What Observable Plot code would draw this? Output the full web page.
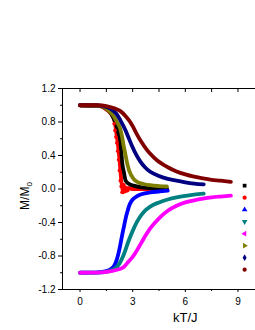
<!DOCTYPE html>
<html>
<head>
<meta charset="utf-8">
<script src="https://cdn.jsdelivr.net/npm/d3@7"></script>
<script src="https://cdn.jsdelivr.net/npm/@observablehq/plot@0.6"></script>
<style>
  html, body { margin: 0; padding: 0; background: #fff; }
  #chart svg { display: block; font-family: "Liberation Sans", Arial, sans-serif; }
</style>
</head>
<body>
<div id="chart"></div>
<script>
// ---- data ----
const blackT  = [0, 1.0, 1.5, 1.9, 2.1, 2.2, 2.29, 2.35, 2.4, 2.5, 2.6, 2.8, 3.05, 3.5, 4.0, 4.95];
const blackM  = [1, 0.995, 0.96, 0.85, 0.74, 0.66, 0.58, 0.45, 0.32, 0.2, 0.1, 0.06, 0.04, 0.02, 0.01, 0.005];

const redT    = [0, 1.0, 1.5, 1.9, 2.0, 2.05, 2.1, 2.15, 2.2, 2.25, 2.3, 2.35, 2.4, 2.45, 2.5, 2.55, 2.6, 2.7, 2.8, 3.0, 3.5, 4.0, 4.95];
const redM    = [1, 0.995, 0.95, 0.85, 0.78, 0.7, 0.62, 0.55, 0.45, 0.35, 0.22, 0.1, 0.03, -0.04, 0.05, -0.03, 0.02, -0.02, 0.01, 0.0, 0.0, -0.005, 0.0];

const blueT   = [0, 1.0, 1.5, 1.9, 2.1, 2.2, 2.3, 2.4, 2.5, 2.6, 2.7, 2.8, 2.9, 3.0, 3.25, 3.5, 4.0, 4.5, 5.0];
const blueM   = [-1, -0.995, -0.98, -0.93, -0.84, -0.76, -0.66, -0.55, -0.45, -0.35, -0.27, -0.2, -0.155, -0.125, -0.085, -0.062, -0.04, -0.03, -0.02];

const tealT   = [0, 1.0, 1.5, 2.0, 2.25, 2.5, 2.75, 3.0, 3.25, 3.5, 3.75, 4.0, 4.5, 5.0, 5.5, 6.0, 6.5, 7.05];
const tealM   = [-1, -0.998, -0.99, -0.95, -0.89, -0.78, -0.63, -0.5, -0.39, -0.31, -0.25, -0.21, -0.16, -0.125, -0.1, -0.082, -0.068, -0.055];

const magentaT = [0, 1.0, 1.5, 2.0, 2.5, 2.75, 3.0, 3.25, 3.5, 3.75, 4.0, 4.5, 5.0, 5.5, 6.0, 6.5, 7.0, 7.5, 8.0, 8.6];
const magentaM = [-1, -0.998, -0.99, -0.97, -0.93, -0.87, -0.81, -0.73, -0.64, -0.55, -0.47, -0.35, -0.26, -0.2, -0.16, -0.135, -0.115, -0.1, -0.09, -0.08];

const oliveT  = [0, 1.0, 1.5, 1.9, 2.1, 2.29, 2.4, 2.48, 2.58, 2.67, 2.8, 3.05, 3.3, 3.62, 4.0, 4.5, 4.95];
const oliveM  = [1, 0.995, 0.96, 0.875, 0.8, 0.72, 0.62, 0.52, 0.42, 0.32, 0.22, 0.12, 0.08, 0.06, 0.045, 0.035, 0.03];

const navyT   = [0, 1.0, 1.5, 1.8, 2.1, 2.3, 2.57, 2.75, 2.95, 3.2, 3.43, 3.7, 4.0, 4.5, 5.0, 5.5, 6.0, 6.5, 7.05];
const navyM   = [1, 0.998, 0.98, 0.95, 0.89, 0.82, 0.71, 0.62, 0.52, 0.41, 0.33, 0.26, 0.205, 0.155, 0.12, 0.1, 0.08, 0.065, 0.055];

const maroonT = [0, 1.0, 1.5, 2.0, 2.3, 2.6, 2.86, 3.0, 3.25, 3.5, 3.8, 4.0, 4.4, 5.0, 5.5, 6.0, 6.5, 7.0, 7.5, 8.0, 8.6];
const maroonM = [1, 1.0, 0.99, 0.96, 0.93, 0.87, 0.8, 0.75, 0.65, 0.56, 0.47, 0.42, 0.34, 0.26, 0.21, 0.175, 0.148, 0.127, 0.11, 0.1, 0.085];

const xTicks = [0, 3, 6, 9];
const xTickLabels = ["0", "3", "6", "9"];
const xMinor = [1.5, 4.5, 7.5];
const xTopTicks = [0, 1.5, 3, 4.5, 6, 7.5, 9];
const yTicks = [-1.2, -0.8, -0.4, 0, 0.4, 0.8, 1.2];
const yTickLabels = ["-1.2", "-0.8", "-0.4", "0.0", "0.4", "0.8", "1.2"];
const yMinor = [-1.0, -0.6, -0.2, 0.2, 0.6, 1.0];

// legend order (as in the reference, top to bottom)
const series = [
  {name: "black",   color: "#000000", symbol: "square",   rotate: 0,   T: blackT,   M: blackM},
  {name: "red",     color: "#ff0000", symbol: "circle",   rotate: 0,   T: redT,     M: redM},
  {name: "blue",    color: "#0000ff", symbol: "triangle", rotate: 0,   T: blueT,    M: blueM},
  {name: "teal",    color: "#008080", symbol: "triangle", rotate: 180, T: tealT,    M: tealM},
  {name: "magenta", color: "#ff00ff", symbol: "triangle", rotate: -90, T: magentaT, M: magentaM},
  {name: "olive",   color: "#808000", symbol: "triangle", rotate: 90,  T: oliveT,   M: oliveM},
  {name: "navy",    color: "#000080", symbol: "diamond",  rotate: 0,   T: navyT,    M: navyM},
  {name: "maroon",  color: "#800000", symbol: "circle",   rotate: 0,   T: maroonT,  M: maroonM}
];
// drawing order: later on top
const drawOrder = ["red", "black", "blue", "teal", "magenta", "olive", "navy", "maroon"];

const legendX = 9.38;
const legendTop = 0.04;
const legendStep = 0.1433;
const legendRows = series.map((s, i) => ({...s, lx: legendX, ly: legendTop - i * legendStep}));

const lineMarks = drawOrder.map(n => {
  const s = series.find(d => d.name === n);
  const rows = s.T.map((t, i) => ({t, m: s.M[i]}));
  return Plot.line(rows, {x: "t", y: "m", stroke: s.color, strokeWidth: 3.8, curve: "monotone-x"});
});

const redRows = redT.map((t, i) => ({t, m: redM[i]})).filter(d => d.t > 1.9 && d.t < 3.1);

const chart = Plot.plot({
  width: 255,
  height: 330,
  marginLeft: 62,
  marginRight: 0,
  marginTop: 88,
  marginBottom: 41,
  style: {fontFamily: "'Liberation Sans', Arial, sans-serif", background: "#fff", overflow: "visible"},
  x: {domain: [-1, 10], axis: null},
  y: {domain: [-1.2, 1.2], axis: null},
  marks: [
    // frame lines
    Plot.ruleX([-1], {stroke: "#000", strokeWidth: 1}),
    Plot.ruleY([-1.2], {stroke: "#000", strokeWidth: 1}),
    Plot.ruleY([1.2], {stroke: "#000", strokeWidth: 1}),
    // left axis
    Plot.axisY({ticks: yTicks, tickSize: 4, tickPadding: 3, fontSize: 10, tickFormat: d => yTickLabels[yTicks.indexOf(d)], label: null, anchor: "left"}),
    Plot.axisY({ticks: yMinor, tickSize: 2, tickFormat: () => "", label: null, anchor: "left"}),
    // bottom axis
    Plot.axisX({ticks: xTicks, tickSize: 3, tickPadding: 5, fontSize: 10, tickFormat: d => xTickLabels[xTicks.indexOf(d)], label: null, anchor: "bottom"}),
    Plot.axisX({ticks: xMinor, tickSize: 2, tickFormat: () => "", label: null, anchor: "bottom"}),
    // top axis ticks (inward)
    Plot.axisX({ticks: xTopTicks, tickSize: -3, tickFormat: () => "", label: null, anchor: "top"}),
    // curves
    ...lineMarks,
    Plot.dot(redRows, {x: "t", y: "m", fill: "#ff0000", r: 1.8, dx: -1}),
    // legend symbols
    Plot.dot(legendRows, {x: "lx", y: "ly", symbol: "symbol", fill: "color", rotate: "rotate", r: 2.1}),
    // x label
    Plot.text(["kT/J"], {x: 6, frameAnchor: "bottom", dy: 32, fontSize: 13, fill: "#000", textAnchor: "middle"})
  ],
  symbol: {type: "identity"}
});

document.getElementById("chart").appendChild(chart);

// y label with subscript
const svg = d3.select(chart);
const yl = svg.append("text")
  .attr("transform", "translate(29,196) rotate(-90)")
  .attr("text-anchor", "middle")
  .attr("font-size", 12)
  .attr("font-family", "'Liberation Sans', Arial, sans-serif")
  .attr("fill", "#000");
yl.append("tspan").text("M/M");
yl.append("tspan").attr("font-size", 8).attr("dy", 3).text("0");
</script>
</body>
</html>
